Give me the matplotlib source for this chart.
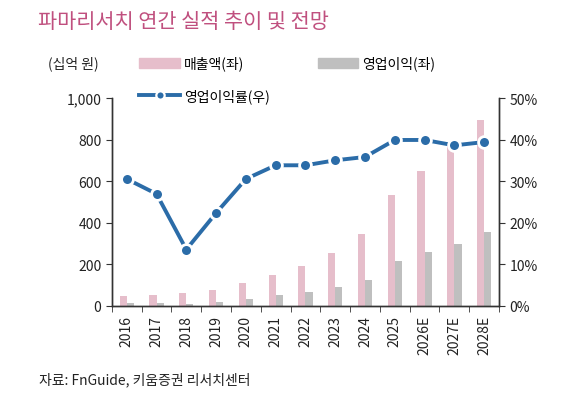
import matplotlib.pyplot as plt
import matplotlib.ticker as mtick
from matplotlib.patches import Patch
from matplotlib.lines import Line2D
import numpy as np

plt.rcParams['font.family'] = ['Noto Sans CJK KR', 'DejaVu Sans']

# 연도 및 실적 (십억 원, %)
years = ['2016', '2017', '2018', '2019', '2020', '2021', '2022',
         '2023', '2024', '2025', '2026E', '2027E', '2028E']
revenue = [44, 53, 62, 77, 109, 149, 191, 255, 345, 533, 647, 768, 896]
op_profit = [13, 14, 8, 17, 33, 50, 64, 89, 124, 213, 258, 297, 353]
op_margin = [30.5, 26.9, 13.5, 22.3, 30.5, 33.8, 33.8, 35.0, 35.8, 39.9, 39.9, 38.6, 39.4]

pink = '#E6BECB'
gray = '#BFBFBF'
blue = '#2B6CA8'

fig = plt.figure(figsize=(5.62, 4.06), dpi=100)
ax = fig.add_axes([0.199, 0.245, 0.689, 0.511])
ax2 = ax.twinx()

x = np.arange(len(years))
w = 0.24
ax.bar(x - w / 2, revenue, width=w, color=pink, zorder=2)
ax.bar(x + w / 2, op_profit, width=w, color=gray, zorder=2)
ax2.plot(x, op_margin, color=blue, lw=2.8, marker='o', ms=8.5,
         mfc=blue, mec='white', mew=2, zorder=3)

ax.set_xlim(-0.5, len(years) - 0.5)
ax.set_ylim(0, 1000)
ax2.set_ylim(0, 50)
ax.set_yticks(range(0, 1001, 200))
ax.yaxis.set_major_formatter(mtick.StrMethodFormatter('{x:,.0f}'))
ax2.set_yticks(range(0, 51, 10))
ax2.yaxis.set_major_formatter(mtick.StrMethodFormatter('{x:.0f}%'))

ax.set_xticks(x)
ax.set_xticklabels(years, rotation=90)
ax.set_xticks(np.arange(-0.5, len(years), 1), minor=True)
ax.tick_params(axis='x', which='major', length=0, pad=7, labelsize=10, colors='#222222')
ax.tick_params(axis='x', which='minor', length=4, direction='out', color='#333333')
ax.tick_params(axis='y', length=4, labelsize=10, colors='#333333', labelcolor='#222222')
ax2.tick_params(axis='y', length=4, labelsize=10, colors='#333333', labelcolor='#222222')

for a in (ax, ax2):
    a.spines['top'].set_visible(False)
    for s in ('left', 'right', 'bottom'):
        a.spines[s].set_color('#333333')
        a.spines[s].set_linewidth(1)

fig.text(0.068, 0.945, '파마리서치 연간 실적 추이 및 전망', fontsize=15,
         color='#C0507F', va='center')
fig.text(0.085, 0.842, '(십억 원)', fontsize=10, color='#222222', va='center')

h1 = [Patch(color=pink, label='매출액(좌)')]
h2 = [Patch(color=gray, label='영업이익(좌)')]
h3 = [Line2D([0], [0], color=blue, lw=2.8, marker='o', ms=6, mfc=blue,
             mec='white', mew=1.6, label='영업이익률(우)')]
leg_kw = dict(frameon=False, fontsize=10, handlelength=2.9, handleheight=0.7,
              handletextpad=0.3, borderpad=0, borderaxespad=0)
fig.legend(handles=h1, loc='center left', bbox_to_anchor=(0.248, 0.842), **leg_kw)
fig.legend(handles=h2, loc='center left', bbox_to_anchor=(0.566, 0.842), **leg_kw)
fig.legend(handles=h3, loc='center left', bbox_to_anchor=(0.248, 0.762), **leg_kw)

fig.text(0.07, 0.065, '자료: FnGuide, 키움증권 리서치센터', fontsize=10,
         color='#222222', va='center')

fig.savefig('out.png', dpi=100)
